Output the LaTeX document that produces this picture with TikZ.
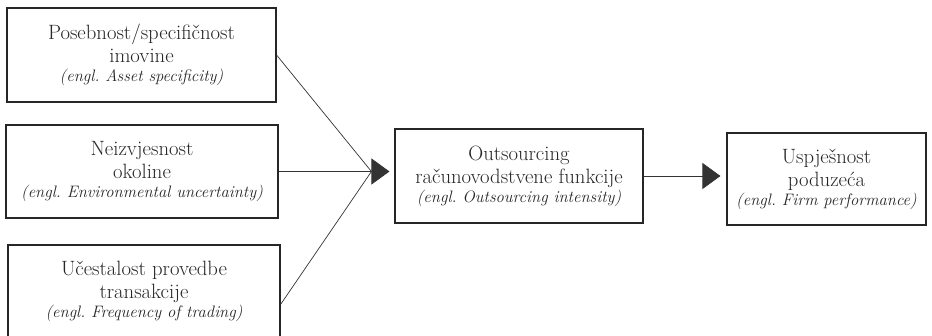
\documentclass[tikz,border=0pt]{standalone}
\usepackage{tikz}
\usetikzlibrary{arrows.meta}
\usetikzlibrary{calc}
\tikzset{
  factor/.style={draw=black!85, text=black!85, line width=1.1pt, inner sep=0pt, align=center,
    font=\fontsize{20.7}{23}\selectfont},
  conn/.style={draw=black!80, line width=0.7pt},
  bigtip/.style={-{Triangle[length=18pt,width=26pt]}}
}
\newcommand{\engl}[1]{\\[-4pt]{\itshape\fontsize{16.6}{19}\selectfont (engl.\ #1)}}

\begin{document}
\begin{tikzpicture}[x=1pt,y=-1pt]
\useasboundingbox (0,0) rectangle (932,336);
\node[factor, minimum width=269pt, minimum height=94pt] (asset) at (141.5,55)
  {Posebnost/specifičnost\\ imovine\engl{Asset specificity}};
\node[factor, minimum width=272pt, minimum height=93pt] (envir) at (142,171.5)
  {Neizvjesnost\\ okoline\engl{Environmental uncertainty}};
\node[factor, minimum width=272pt, minimum height=93pt] (freq) at (144,291.5)
  {Učestalost provedbe\\ transakcije\engl{Frequency of trading}};
\node[factor, minimum width=248pt, minimum height=94pt] (outs) at (519,176)
  {Outsourcing\\ računovodstvene funkcije\engl{Outsourcing intensity}};
\node[factor, minimum width=199pt, minimum height=92pt] (perf) at (826.5,179)
  {Uspješnost\\ poduzeća\engl{Firm performance}};

\coordinate (hub) at ([xshift=-23pt]envir.east -| outs.west);
\draw[conn] (asset.east) -- (hub);
\draw[conn] ([yshift=-13pt]freq.east) -- (hub);
\draw[conn, bigtip] (envir.east) -- ([xshift=-5pt]envir.east -| outs.west);
\draw[conn, bigtip] (outs.east) -- ([xshift=-6pt]outs.east -| perf.west);
\end{tikzpicture}
\end{document}
